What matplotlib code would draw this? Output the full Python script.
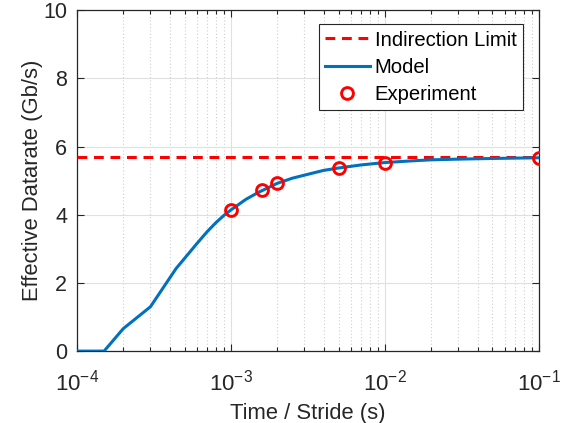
import numpy as np
import matplotlib
matplotlib.use('Agg')
import matplotlib.pyplot as plt

# values
model_x = [1e-4, 1.5e-4, 2e-4, 3e-4, 4.4e-4, 5e-4, 6e-4, 7e-4, 8e-4, 9e-4,
           1e-3, 1.25e-3, 1.5e-3, 2e-3, 2.5e-3, 3e-3, 4e-3, 5e-3, 7e-3,
           1e-2, 1.5e-2, 2e-2, 3e-2, 5e-2, 1e-1]
model_y = [0, 0, 0.66, 1.30, 2.42, 2.72, 3.15, 3.50, 3.77, 3.98,
           4.14, 4.45, 4.65, 4.92, 5.07, 5.16, 5.30, 5.37, 5.46,
           5.53, 5.58, 5.61, 5.63, 5.65, 5.67]
exp_x = [1e-3, 1.6e-3, 2e-3, 5e-3, 1e-2, 1e-1]
exp_y = [4.15, 4.72, 4.94, 5.36, 5.52, 5.67]
limit = 5.68

plt.rcParams['font.family'] = ['Liberation Sans', 'DejaVu Sans']
plt.rcParams['mathtext.fontset'] = 'custom'
plt.rcParams['mathtext.rm'] = 'Liberation Sans'
plt.rcParams['mathtext.it'] = 'Liberation Sans'

axcol = '#262626'
fig = plt.figure(figsize=(5.66, 4.23), dpi=100)
ax = fig.add_axes([0.136, 0.170, 0.816, 0.806])

ax.axhline(limit, color='#ff0000', ls=(0, (3.2, 2.2)), lw=2.2, label='Indirection Limit', zorder=3)
ax.plot(model_x, model_y, color='#0072bd', lw=2.2, label='Model', zorder=4)
ax.plot(exp_x, exp_y, 'o', mfc='none', mec='#ff0000', mew=2.1, ms=8.5, label='Experiment', zorder=5)

ax.set_xscale('log')
ax.set_xlim(1e-4, 1e-1)
ax.set_ylim(0, 10)
ax.set_yticks([0, 2, 4, 6, 8, 10])
ax.set_xticks([1e-4, 1e-3, 1e-2, 1e-1])

ax.grid(True, which='major', color='#e0e0e0', lw=0.8, ls='-')
ax.grid(True, which='minor', axis='x', color='#cfcfcf', lw=0.8, ls=(0, (1, 2)))
ax.set_axisbelow(True)

ax.tick_params(which='both', direction='in', top=True, right=True, colors=axcol,
               labelsize=15.5, length=5, width=0.8)
ax.tick_params(axis='x', which='major', pad=13, labelsize=16)
ax.tick_params(axis='y', pad=7)
ax.tick_params(which='minor', length=3)
for s in ax.spines.values():
    s.set_color(axcol)
    s.set_linewidth(0.9)

ax.set_xlabel('Time / Stride (s)', fontsize=15.8, color=axcol, labelpad=6)
ax.set_ylabel('Effective Datarate (Gb/s)', fontsize=15.8, color=axcol, labelpad=0)

leg = ax.legend(loc='upper right', fontsize=14.6, fancybox=False, framealpha=1,
                edgecolor='#262626', handlelength=2.2, handletextpad=0.25,
                borderpad=0.3, labelspacing=0.4, borderaxespad=0,
                bbox_to_anchor=(0.965, 0.958))
leg.get_frame().set_linewidth(0.8)

fig.savefig('out.png', dpi=100)
